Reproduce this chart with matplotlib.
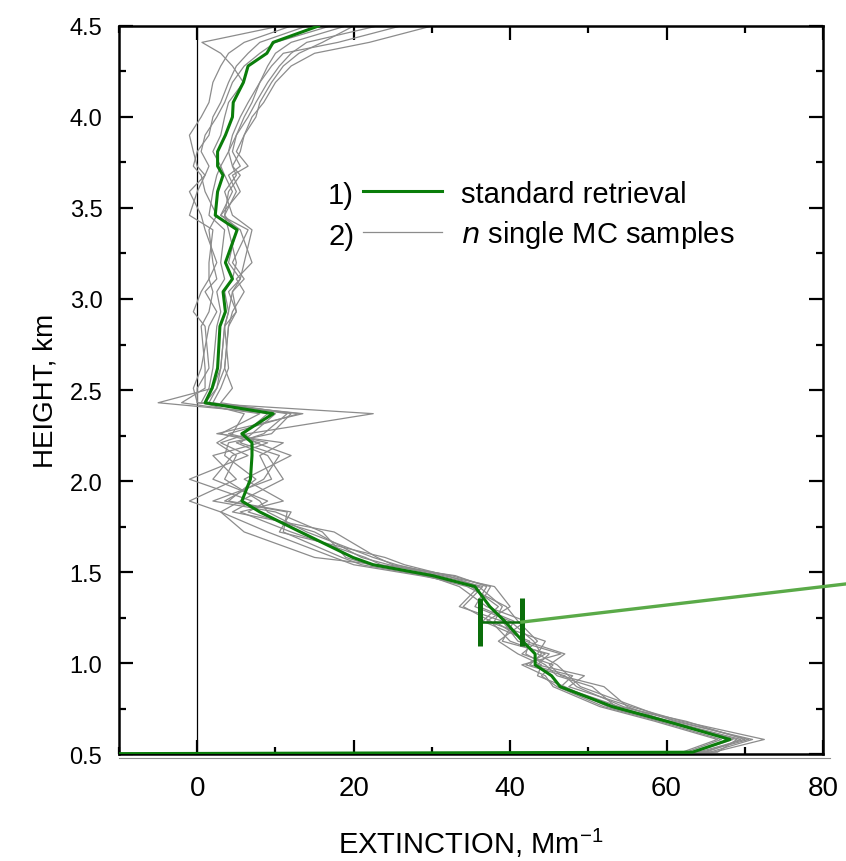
"""
Extinction profile: standard retrieval vs. single Monte-Carlo samples
"""
import matplotlib
matplotlib.use('Agg')
import matplotlib.pyplot as plt
from matplotlib.ticker import MultipleLocator

plt.rcParams['font.family'] = ['Liberation Sans', 'DejaVu Sans']
plt.rcParams['mathtext.fontset'] = 'custom'
plt.rcParams['mathtext.rm'] = 'Liberation Sans'

# heights (km) shared by all profiles
height = [4.50, 4.41, 4.35, 4.28, 4.19, 4.08, 4.00, 3.90, 3.81, 3.73,
          3.68, 3.59, 3.46, 3.38, 3.20, 3.11, 3.04, 2.93, 2.85, 2.62,
          2.51, 2.43, 2.37, 2.26, 2.21, 2.14, 2.01, 1.89, 1.83, 1.72,
          1.58, 1.54, 1.48, 1.42, 1.31, 1.23, 1.12, 1.05, 0.99, 0.93,
          0.87, 0.76, 0.68, 0.58, 0.51, 0.50]

# standard retrieval (Mm-1)
standard = [15.5, 9.7, 8.9, 6.5, 5.9, 4.6, 4.5, 3.6, 2.6, 2.6,
            3.3, 2.6, 2.3, 5.1, 3.6, 4.5, 3.3, 3.6, 2.9, 2.6,
            1.9, 1.0, 9.7, 5.7, 7.0, 7.0, 6.8, 5.7, 8.0, 13.2,
            19.9, 22.5, 30.1, 35.5, 37.4, 39.3, 41.6, 43.2, 43.2, 45.3,
            46.4, 53.1, 60.0, 68.1, 63.3, -30.0]

# single MC samples (Mm-1)
mc_1 = [30.0, 22.0, 15.0, 12.0, 10.0, 8.5, 7.0, 6.0, 5.0, 6.5,
        4.5, 5.5, 3.0, 6.5, 4.5, 6.0, 4.5, 5.0, 4.0, 3.5,
        2.5, 1.0, 13.0, 4.0, 9.0, 4.5, 2.0, 9.0, 6.5, 15.0,
        21.0, 24.5, 31.0, 36.5, 34.0, 37.5, 40.0, 44.5, 42.0, 47.0,
        48.5, 54.5, 61.5, 70.5, 64.5, -30.0]
mc_2 = [23.0, 14.0, 12.0, 10.5, 9.0, 7.5, 6.5, 5.0, 4.0, 4.5,
        5.5, 4.0, 3.5, 4.0, 5.0, 4.5, 3.5, 4.0, 3.5, 3.0,
        2.0, -5.0, 10.0, 7.0, 5.5, 10.5, 8.5, 3.5, 11.5, 11.0,
        18.5, 21.0, 29.0, 34.5, 39.5, 41.0, 43.5, 41.5, 45.5, 44.0,
        46.0, 52.0, 59.0, 67.0, 62.5, -30.0]
mc_3 = [17.0, 10.0, 8.0, 6.0, 4.5, 3.5, 2.5, 1.0, 0.5, 1.5,
        1.0, 0.0, -1.0, 2.0, 1.5, 1.5, 0.5, -0.5, 1.0, 1.5,
        0.0, 0.0, 22.5, 6.5, 3.0, 6.5, -1.0, 7.0, 4.5, 17.5,
        23.0, 25.0, 32.5, 37.5, 36.0, 40.5, 39.0, 45.0, 43.5, 49.5,
        47.5, 55.5, 62.0, 72.5, 66.0, -30.0]
mc_4 = [12.0, 6.0, 4.0, 3.0, 2.0, 1.5, 0.5, -1.0, -0.5, 0.0,
        1.0, -1.0, 0.5, 1.0, 2.5, 1.5, 2.0, 1.5, 0.5, 1.0,
        1.0, -2.0, 8.0, 3.0, 8.0, 2.0, 5.0, -1.0, 3.0, 6.0,
        15.0, 23.0, 30.5, 35.0, 38.5, 36.5, 42.5, 42.0, 44.5, 46.0,
        50.5, 53.5, 60.5, 69.5, 65.0, -30.0]
mc_5 = [20.0, 16.0, 13.0, 11.0, 9.5, 8.0, 7.5, 6.0, 5.5, 4.5,
        5.0, 3.5, 4.5, 7.0, 6.0, 5.5, 4.5, 4.0, 3.5, 4.0,
        3.0, 2.0, 11.5, 8.5, 5.0, 9.0, 11.0, 5.5, 3.0, 9.0,
        17.5, 20.0, 28.5, 36.0, 33.5, 39.0, 41.0, 46.5, 41.5, 44.5,
        45.5, 51.5, 58.5, 66.5, 62.0, -30.0]
mc_6 = [10.6, 0.6, 3.0, 4.5, 5.9, 4.0, 3.5, 3.0, 2.0, 3.0,
        2.5, 2.0, 1.5, 3.5, 3.0, 3.5, 2.5, 3.0, 2.5, 2.0,
        1.5, 0.5, 6.0, 4.5, 2.5, 5.0, 3.5, 8.0, 9.0, 14.0,
        22.5, 25.5, 31.5, 38.0, 40.0, 37.0, 44.5, 43.5, 46.0, 47.5,
        49.0, 56.0, 61.0, 71.0, 65.5, -30.0]
mc_7 = [14.0, 8.0, 6.5, 5.0, 4.0, 3.0, 2.0, 1.5, 0.0, -0.5,
        0.5, 1.0, 2.5, 1.5, 2.0, 2.5, 1.0, 2.5, 1.5, 0.5,
        -0.5, 0.0, 13.5, 2.5, 11.0, 8.0, 9.5, 2.0, 10.0, 16.0,
        19.0, 22.0, 29.5, 33.5, 37.0, 42.0, 38.5, 41.0, 44.0, 43.5,
        47.0, 52.5, 59.5, 68.5, 63.5, -30.0]
mc_8 = [19.0, 12.0, 10.0, 9.0, 8.0, 7.0, 6.0, 5.0, 4.5, 5.5,
        4.0, 5.0, 3.5, 5.0, 4.0, 5.5, 4.0, 5.0, 3.5, 3.0,
        2.5, 1.5, 9.0, 6.0, 7.5, 12.0, 6.0, 11.0, 5.5, 12.0,
        21.5, 23.5, 33.0, 37.0, 35.5, 40.0, 43.0, 44.0, 42.5, 48.0,
        46.5, 54.0, 62.5, 70.0, 64.0, -30.0]
mc_9 = [26.0, 18.0, 11.0, 9.5, 8.0, 6.5, 5.5, 4.5, 4.0, 3.0,
        3.5, 4.5, 3.0, 5.5, 7.0, 5.0, 6.0, 4.5, 4.0, 3.5,
        4.5, 3.0, 12.0, 9.5, 4.0, 3.5, 7.5, 4.0, 12.0, 10.5,
        24.0, 26.5, 32.0, 36.0, 39.0, 38.0, 42.0, 47.0, 45.0, 46.5,
        52.0, 55.0, 60.0, 69.0, 66.5, -30.0]
mc_samples = [mc_1, mc_2, mc_3, mc_4, mc_5, mc_6, mc_7, mc_8, mc_9]

# error bar of the standard retrieval at one height
err_x, err_h, err_dx = 38.8, 1.225, 2.7
# end point of the pointer line leaving the plot (data units)
pointer_x, pointer_h = 86.0, 1.45

legend_labels = ['standard retrieval', r'$\mathit{n}$ single MC samples']

fig = plt.figure(figsize=(8.46, 8.62), dpi=100)
ax = fig.add_axes([0.1407, 0.1241, 0.8321, 0.8446])

for s in mc_samples:
    gray_line, = ax.plot(s, height, color='#8c8c8c', lw=0.9, zorder=2)
green_line, = ax.plot(standard, height, color='#0a7d0a', lw=2.2, zorder=3)

ax.axvline(0, color='black', lw=0.9, zorder=1)

ax.errorbar([err_x], [err_h], xerr=[err_dx], fmt='none', ecolor='#0a6e0a',
            elinewidth=1.8, capsize=17, capthick=3.6, zorder=4)
ax.plot([err_x + err_dx, pointer_x], [err_h, pointer_h], color='#5aaa48',
        lw=2.4, clip_on=False, zorder=4)

ax.set_xlim(-10, 80)
ax.set_ylim(0.5, 4.5)
ax.xaxis.set_major_locator(MultipleLocator(20))
ax.xaxis.set_minor_locator(MultipleLocator(10))
ax.yaxis.set_major_locator(MultipleLocator(0.5))
ax.yaxis.set_minor_locator(MultipleLocator(0.25))
ax.yaxis.set_major_formatter(plt.FormatStrFormatter('%.1f'))
ax.tick_params(which='both', direction='in', top=True, right=True, width=1.6)
ax.tick_params(which='major', length=10)
ax.tick_params(which='minor', length=5)
ax.tick_params(axis='x', labelsize=20, pad=15)
ax.tick_params(axis='y', labelsize=17, pad=12)
for sp in ax.spines.values():
    sp.set_linewidth(1.8)

ax.set_xlabel(r'EXTINCTION, Mm$^{\mathregular{-1}}$', fontsize=21, labelpad=18)
ax.set_ylabel('HEIGHT, km', fontsize=20, labelpad=8)

# thin second line under the bottom axis
ax.plot([0, 1.01], [-0.006, -0.006], transform=ax.transAxes, color='0.55',
        lw=0.8, clip_on=False)

ax.legend([green_line, gray_line], legend_labels, loc='upper left',
          bbox_to_anchor=(0.3466, 0.789), frameon=False, fontsize=21,
          handlelength=2.7, handletextpad=0.65, labelspacing=0.36,
          borderpad=0, borderaxespad=0)
ax.text(0.297, 0.768, '1)', transform=ax.transAxes, fontsize=21,
        ha='left', va='center')
ax.text(0.297, 0.712, '2)', transform=ax.transAxes, fontsize=21,
        ha='left', va='center')

fig.savefig('out.png', dpi=100)
